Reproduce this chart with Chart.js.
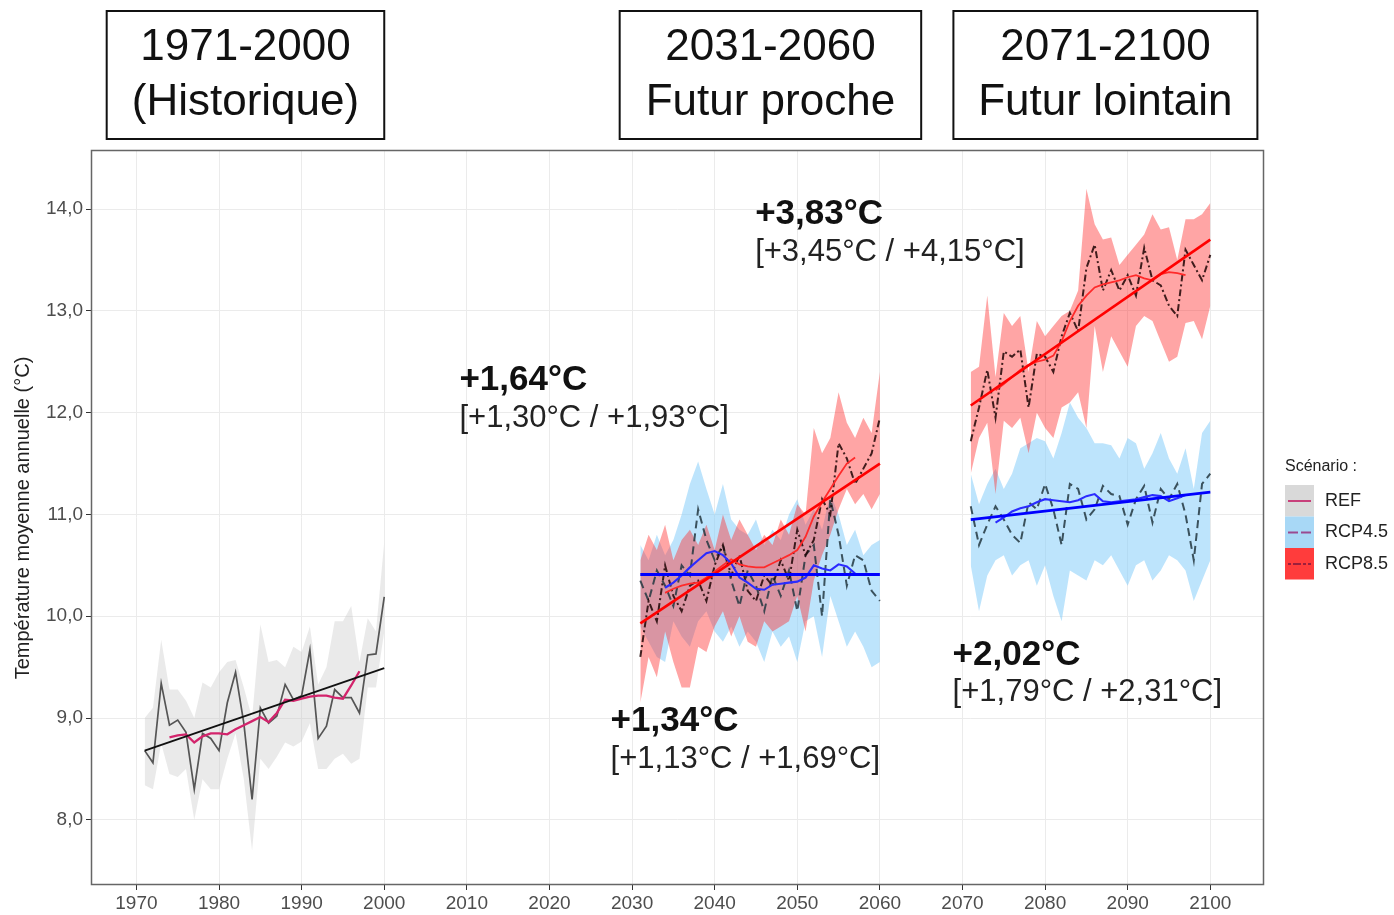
<!DOCTYPE html>
<html><head><meta charset="utf-8">
<script src="https://cdn.jsdelivr.net/npm/chart.js@4/dist/chart.umd.min.js"></script>
<style>html,body{margin:0;padding:0;background:#fff;}#wrap{position:relative;width:1394px;height:915px;}</style>
</head><body><div id="wrap"><canvas id="c" width="1394" height="915"></canvas></div>
<script>
// ---------- categories ----------
function range(a,b){const r=[];for(let y=a;y<=b;y++)r.push(y);return r;}
const histYears = range(1971,2000);
const nearYears = range(2031,2060);
const farYears  = range(2071,2100);
const histRollYears = range(1974,1997);
const nearRollYears = range(2034,2057);
const farRollYears  = range(2074,2097);
const xTicks = [1970,1980,1990,2000,2010,2020,2030,2040,2050,2060,2070,2080,2090,2100];
const yTicks = [8,9,10,11,12,13,14];

// ---------- REF (1971-2000) ----------
const refAnnual = [8.68,8.56,9.34,8.93,8.98,8.86,8.30,8.85,8.80,8.68,9.15,9.45,8.95,8.20,9.10,8.95,9.02,9.33,9.18,9.22,9.67,8.80,8.92,9.28,9.20,9.20,9.05,9.62,9.63,10.19];
const refLow    = [8.34,8.30,8.75,8.45,8.42,8.50,8.00,8.40,8.30,8.30,8.60,8.85,8.40,7.70,8.60,8.50,8.62,8.76,8.72,8.77,8.95,8.50,8.50,8.60,8.65,8.55,8.60,9.30,9.30,9.85];
const refHigh   = [9.00,9.10,9.77,9.28,9.28,9.17,9.00,9.35,9.30,9.45,9.55,9.57,9.30,9.00,9.92,9.55,9.57,9.50,9.70,9.65,9.90,9.33,9.50,9.95,9.95,10.10,9.55,9.98,9.85,10.73];
const refRoll   = [8.81,8.83,8.84,8.76,8.82,8.85,8.85,8.84,8.89,8.93,8.97,9.01,8.96,9.05,9.18,9.17,9.19,9.21,9.22,9.22,9.20,9.19,9.32,9.46];
const refTrendYears = [1971,2000];
const refTrend  = [8.68,9.49];

// ---------- RCP4.5 ----------
const r45Near     = [10.35,10.15,10.45,10.30,10.10,10.50,10.40,11.05,10.75,10.55,10.70,10.35,10.10,10.45,10.30,10.05,10.40,10.20,10.45,10.05,10.60,10.70,10.00,11.15,10.80,10.30,10.60,10.55,10.25,10.15];
const r45NearHigh = [10.70,10.55,10.80,10.60,10.75,11.00,11.30,11.52,11.25,11.00,11.30,10.95,10.85,10.80,10.95,10.70,10.85,10.75,11.00,11.15,10.90,11.05,10.85,11.20,11.00,10.70,10.85,10.60,10.70,10.75];
const r45NearLow  = [9.90,9.75,9.60,9.55,9.95,9.80,9.70,9.95,10.05,9.85,9.75,9.90,9.70,9.85,9.75,9.55,9.85,9.70,9.80,9.55,9.95,10.00,9.60,10.20,9.95,9.70,9.85,9.70,9.50,9.55];
const r45NearRoll = [10.28,10.33,10.40,10.48,10.55,10.62,10.64,10.60,10.52,10.38,10.33,10.27,10.26,10.31,10.32,10.33,10.34,10.38,10.50,10.47,10.45,10.51,10.49,10.42];
const r45Far      = [11.08,10.70,10.90,11.08,10.95,10.80,10.72,11.12,11.05,11.30,11.05,10.70,11.30,11.25,10.95,11.05,11.28,11.20,11.18,10.90,11.15,11.28,10.92,11.25,11.15,11.30,11.00,10.55,11.30,11.40];
const r45FarHigh  = [11.40,11.10,11.30,11.45,11.25,11.40,11.65,11.70,11.75,11.72,11.55,11.80,12.10,11.95,11.85,11.70,11.70,11.68,11.55,11.75,11.70,11.45,11.60,11.80,11.55,11.40,11.65,11.25,11.80,11.92];
const r45FarLow   = [10.50,10.05,10.40,10.55,10.60,10.40,10.50,10.55,10.30,10.50,10.20,9.95,10.45,10.40,10.35,10.55,10.50,10.60,10.45,10.30,10.50,10.55,10.35,10.45,10.60,10.55,10.45,10.15,10.35,10.55];
const r45FarRoll  = [10.92,10.97,11.03,11.06,11.08,11.12,11.15,11.14,11.13,11.12,11.14,11.18,11.20,11.13,11.12,11.13,11.14,11.15,11.17,11.19,11.18,11.13,11.16,11.19];
const r45NearTrendYears = [2031,2060];
const r45NearTrend = [10.41,10.41];
const r45FarTrendYears = [2071,2100];
const r45FarTrend = [10.95,11.22];

// ---------- RCP8.5 ----------
const r85Near     = [9.60,10.15,9.95,10.50,10.20,10.05,10.30,10.35,10.15,10.50,10.70,10.40,10.60,10.25,10.15,10.40,10.30,10.55,10.35,10.85,10.60,10.75,11.15,11.00,11.70,11.55,11.30,11.45,11.60,11.95];
const r85NearHigh = [10.55,10.80,10.65,10.90,10.55,10.75,10.85,10.70,10.90,10.65,11.00,10.75,10.95,10.80,10.65,10.80,10.70,10.95,10.80,11.10,11.00,11.85,11.60,11.75,12.20,11.90,11.75,11.95,11.80,12.40];
const r85NearLow  = [9.15,9.60,9.40,9.85,9.55,9.30,9.30,9.70,9.65,9.90,10.05,9.80,10.00,9.75,9.70,9.95,9.85,9.90,9.95,10.20,9.85,10.35,10.60,10.80,11.05,11.25,11.10,11.20,11.05,11.20];
const r85NearRoll = [10.23,10.27,10.30,10.32,10.33,10.38,10.44,10.50,10.56,10.51,10.49,10.48,10.48,10.52,10.56,10.60,10.65,10.78,10.98,11.12,11.25,11.38,11.50,11.56];
const r85Far      = [11.72,12.05,12.42,11.95,12.60,12.55,12.62,12.05,12.58,12.55,12.40,12.75,12.98,12.80,13.42,13.65,13.20,13.40,13.20,13.35,13.15,13.62,13.30,13.25,13.05,12.95,13.60,13.45,13.30,13.55];
const r85FarHigh  = [12.40,12.45,13.15,12.35,12.98,12.85,12.95,12.40,12.90,12.75,12.85,12.95,13.00,13.20,14.20,13.85,13.70,13.72,13.45,13.55,13.65,13.75,13.95,13.80,13.82,13.50,13.90,13.90,13.95,14.06];
const r85FarLow   = [11.40,11.75,11.90,11.20,11.92,11.85,11.95,11.60,12.00,11.85,11.75,12.05,12.10,12.20,11.85,12.85,12.40,12.75,12.60,12.45,12.85,12.95,12.90,12.70,12.50,12.55,12.88,12.90,12.72,13.05];
const r85FarRoll  = [12.22,12.28,12.35,12.42,12.47,12.50,12.52,12.56,12.70,12.90,13.05,13.15,13.23,13.26,13.28,13.30,13.33,13.35,13.32,13.30,13.36,13.38,13.37,13.35];
const r85NearTrendYears = [2031,2060];
const r85NearTrend = [9.93,11.50];
const r85FarTrendYears = [2071,2100];
const r85FarTrend = [12.07,13.70];

// ---------- labels ----------
const periodTitles = [
  {from:1966.4, to:2000, lines:['1971-2000','(Historique)']},
  {from:2028.5, to:2065, lines:['2031-2060','Futur proche']},
  {from:2068.9, to:2105.7, lines:['2071-2100','Futur lointain']}
];
const deltaLabels = [
  {x:2009.1, y:12.32, big:'+1,64°C', small:'[+1,30°C / +1,93°C]'},
  {x:2044.9, y:13.95, big:'+3,83°C', small:'[+3,45°C / +4,15°C]'},
  {x:2027.4, y:8.97,  big:'+1,34°C', small:'[+1,13°C / +1,69°C]'},
  {x:2068.8, y:9.62,  big:'+2,02°C', small:'[+1,79°C / +2,31°C]'}
];
const legendTitle = 'Scénario :';
const legendItems = ['REF','RCP4.5','RCP8.5'];
const yTitle = 'Température moyenne annuelle (°C)';

// ---------- build datasets ----------
function pts(xs, ys){return xs.map((x,i)=>({x:x,y:ys[i]}));}
const FONT = '"Liberation Sans", Arial, sans-serif';
const ds = [];
function band(xs, lo, hi, color, order){
  ds.push({data:pts(xs,lo), borderWidth:0, pointRadius:0, fill:false, order:order});
  ds.push({data:pts(xs,hi), borderWidth:0, pointRadius:0, fill:'-1', backgroundColor:color, order:order});
}
function line(xs, ys, color, width, dash, order){
  ds.push({data:pts(xs,ys), borderColor:color, borderWidth:width, borderDash:dash||[], pointRadius:0, fill:false, order:order, tension:0});
}
const cRef = 'rgba(195,195,195,0.35)';
const c45 = 'rgba(135,206,250,0.55)';
const c85 = 'rgba(255,40,40,0.42)';
band(histYears, refLow, refHigh, cRef, 20);
band(nearYears, r45NearLow, r45NearHigh, c45, 19);
band(farYears, r45FarLow, r45FarHigh, c45, 19);
band(nearYears, r85NearLow, r85NearHigh, c85, 18);
band(farYears, r85FarLow, r85FarHigh, c85, 18);
line(histYears, refAnnual, '#555555', 1.7, [], 8);
line(nearYears, r45Near, 'rgba(35,55,65,0.85)', 2, [8,5], 8);
line(farYears, r45Far, 'rgba(35,55,65,0.85)', 2, [8,5], 8);
line(nearYears, r85Near, 'rgba(30,5,5,0.85)', 2, [7,3,2,3], 7);
line(farYears, r85Far, 'rgba(30,5,5,0.85)', 2, [7,3,2,3], 7);
line(histRollYears, refRoll, '#d3246c', 2.3, [], 5);
line(nearRollYears, r45NearRoll, '#2b2bff', 2.1, [], 5);
line(farRollYears, r45FarRoll, '#2b2bff', 2.1, [], 5);
line(nearRollYears, r85NearRoll, '#ff2a2a', 1.8, [], 5);
line(farRollYears, r85FarRoll, '#ff2a2a', 1.8, [], 5);
line(refTrendYears, refTrend, '#111111', 1.8, [], 2);
line(r45NearTrendYears, r45NearTrend, '#0000ff', 2.8, [], 2);
line(r45FarTrendYears, r45FarTrend, '#0000ff', 2.8, [], 2);
line(r85NearTrendYears, r85NearTrend, '#ff0000', 2.6, [], 2);
line(r85FarTrendYears, r85FarTrend, '#ff0000', 2.6, [], 2);

const decor = {
  id:'decor',
  afterDraw(chart){
    const ctx = chart.ctx, a = chart.chartArea, xs = chart.scales.x, ys = chart.scales.y;
    ctx.save();
    // panel border
    ctx.strokeStyle = '#666'; ctx.lineWidth = 1.5;
    ctx.strokeRect(a.left+0.5, a.top+0.5, a.right-a.left-1, a.bottom-a.top-1);
    // period boxes
    ctx.strokeStyle = '#111'; ctx.lineWidth = 2;
    ctx.fillStyle = '#111'; ctx.textAlign = 'center'; ctx.textBaseline = 'middle';
    ctx.font = '44px ' + FONT;
    periodTitles.forEach(p=>{
      const l = xs.getPixelForValue(p.from), r = xs.getPixelForValue(p.to);
      ctx.strokeRect(l, 11, r-l, 128);
      const cx = (l+r)/2;
      ctx.fillText(p.lines[0], cx, 48);
      ctx.fillText(p.lines[1], cx, 103);
    });
    // delta labels
    ctx.textAlign = 'left';
    deltaLabels.forEach(d=>{
      const px = xs.getPixelForValue(d.x), py = ys.getPixelForValue(d.y);
      ctx.font = 'bold 35px ' + FONT; ctx.fillStyle = '#111';
      ctx.fillText(d.big, px, py);
      ctx.font = '31px ' + FONT; ctx.fillStyle = '#222';
      ctx.fillText(d.small, px, py + 38);
    });
    // y title
    ctx.save();
    ctx.translate(23, 518);
    ctx.rotate(-Math.PI/2);
    ctx.font = '20px ' + FONT; ctx.fillStyle = '#222'; ctx.textAlign='center';
    ctx.fillText(yTitle, 0, 0);
    ctx.restore();
    // legend
    const lx = 1285, ly = 467;
    ctx.font = '16px ' + FONT; ctx.fillStyle = '#222'; ctx.textAlign='left';
    ctx.fillText(legendTitle, lx, ly);
    const keyFill = ['#d9d9d9','#a8d8f6','#ff3c3c'];
    const keyLine = ['#c8407a','#9a4a90','#9c1f3c'];
    const keyDash = [[],[10,3],[3,2,8,2]];
    legendItems.forEach((t,i)=>{
      const top = 485 + i*31.5;
      ctx.fillStyle = keyFill[i]; ctx.fillRect(lx, top, 29, 31.5);
      ctx.strokeStyle = keyLine[i]; ctx.lineWidth = 2; ctx.setLineDash(keyDash[i]);
      ctx.beginPath(); ctx.moveTo(lx+3, top+16); ctx.lineTo(lx+26, top+16); ctx.stroke();
      ctx.setLineDash([]);
      ctx.fillStyle = '#222'; ctx.font = '18px ' + FONT;
      ctx.fillText(t, lx+40, top+16);
    });
    ctx.restore();
  }
};

new Chart(document.getElementById('c'), {
  type:'line',
  data:{datasets:ds},
  options:{
    responsive:false, animation:false, devicePixelRatio:1,
    layout:{padding:{top:150,right:130,left:0,bottom:0}},
    plugins:{legend:{display:false}, tooltip:{enabled:false}},
    scales:{
      x:{type:'linear', min:1964.5, max:2106.5,
        afterBuildTicks:s=>{s.ticks = xTicks.map(v=>({value:v}));},
        afterFit:s=>{s.height = 30;},
        ticks:{font:{family:FONT,size:19}, color:'#4d4d4d', padding:2, maxRotation:0, autoSkip:false, callback:v=>String(v)},
        grid:{color:'#ebebeb', lineWidth:1, tickColor:'#333', tickLength:5},
        border:{display:false}},
      y:{type:'linear', min:7.36, max:14.58,
        afterBuildTicks:s=>{s.ticks = yTicks.map(v=>({value:v}));},
        afterFit:s=>{s.width = 91;},
        ticks:{font:{family:FONT,size:19}, color:'#4d4d4d', padding:3, callback:v=>v.toFixed(1).replace('.',',')},
        grid:{color:'#ebebeb', lineWidth:1, tickColor:'#333', tickLength:5},
        border:{display:false}}
    }
  },
  plugins:[decor]
});
</script></body></html>
